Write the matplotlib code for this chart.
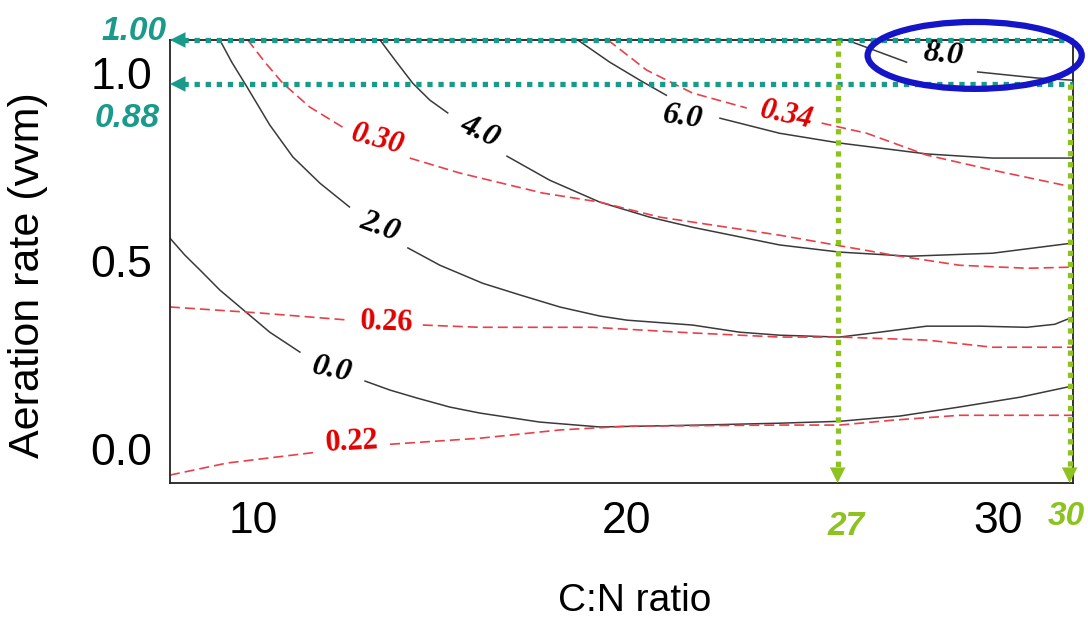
import numpy as np
import matplotlib
matplotlib.use("Agg")
import matplotlib.pyplot as plt
from matplotlib.patches import Ellipse

nan = np.nan

# ---- contour lines (C:N ratio, aeration rate vvm); nan = label gap
# black solid contours
cn_k0 = [7.75, 8.15, 8.56, 9.09, 9.82, 10.43, 11.24, nan,
         12.99, 13.66, 14.38, 15.26, 16.07, 17.68, 19.29, 21.97, 24.12, 25.73, 27.35, 28.95, 30.57, 31.99]
ar_k0 = [0.561, 0.516, 0.476, 0.423, 0.362, 0.311, 0.258, nan,
         0.181, 0.157, 0.136, 0.112, 0.096, 0.072, 0.059, 0.064, 0.069, 0.074, 0.088, 0.112, 0.138, 0.168]

cn_k2 = [9.09, 9.41, 9.82, 10.43, 11.05, 11.78, 12.57, nan,
         14.14, 15.00, 16.15, 17.15, 18.22, 19.29, 20.02, 21.78, 23.05, 24.12, 25.73, 26.81, 28.07, 29.49, 30.76, 31.51, 31.99]
ar_k2 = [1.088, 1.029, 0.963, 0.862, 0.777, 0.707, 0.644, nan,
         0.535, 0.489, 0.441, 0.410, 0.378, 0.354, 0.343, 0.330, 0.311, 0.303, 0.298, 0.311, 0.327, 0.327, 0.324, 0.332, 0.351]

cn_k4 = [13.39, 13.79, 14.27, 14.73, 15.21, nan, 16.80, 17.95, 19.29, 20.63, 21.78, 24.12, 25.73, 27.61, 29.84, 31.99]
ar_k4 = [1.088, 1.035, 0.973, 0.928, 0.894, nan, 0.779, 0.715, 0.657, 0.617, 0.590, 0.543, 0.524, 0.513, 0.521, 0.548]

cn_k6 = [18.70, 19.56, 20.37, 21.08, nan, 22.52, 24.12, 25.73, 28.07, 29.84, 31.99]
ar_k6 = [1.088, 1.029, 0.981, 0.941, nan, 0.880, 0.840, 0.814, 0.785, 0.774, 0.774]

cn_k8 = [25.92, 27.53, nan, 29.44, 31.02, 31.99]
ar_k8 = [1.088, 1.029, nan, 1.003, 0.987, 0.981]

# red dashed contours
cn_r22 = [7.75, 9.28, 11.70, nan, 13.66, 16.07, 18.22, 20.02, 24.12, 25.73, 27.16, 28.95, 31.99]
ar_r22 = [-0.069, -0.037, -0.008, nan, 0.013, 0.029, 0.051, 0.061, 0.064, 0.064, 0.077, 0.090, 0.090]

cn_r26 = [7.75, 10.17, 12.57, nan, 14.54, 16.07, 19.11, 21.78, 24.12, 25.73, 28.07, 29.84, 31.99]
ar_r26 = [0.378, 0.362, 0.343, nan, 0.330, 0.324, 0.324, 0.309, 0.298, 0.298, 0.290, 0.271, 0.271]

cn_r30 = [9.84, 10.30, 10.78, 11.50, 12.39, nan, 14.19, 15.54, 17.76, 19.29, 20.90, 24.12, 27.16, 28.95, 30.76, 31.99]
ar_r30 = [1.088, 1.029, 0.973, 0.910, 0.856, nan, 0.774, 0.734, 0.681, 0.657, 0.617, 0.569, 0.516, 0.489, 0.481, 0.484]

cn_r34 = [19.51, 20.55, 21.78, 23.24, nan, 25.25, 26.46, 28.07, 29.84, 31.99]
ar_r34 = [1.088, 1.008, 0.947, 0.907, nan, 0.867, 0.840, 0.782, 0.742, 0.697]

black_lines = [(cn_k0, ar_k0), (cn_k2, ar_k2), (cn_k4, ar_k4), (cn_k6, ar_k6), (cn_k8, ar_k8)]
red_lines = [(cn_r22, ar_r22), (cn_r26, ar_r26), (cn_r30, ar_r30), (cn_r34, ar_r34)]

# inline labels: text, x, y, rotation
black_labels = [("0.0", 12.10, 0.210, -12), ("2.0", 13.39, 0.590, -20), ("4.0", 16.07, 0.843, -25),
                ("6.0", 21.52, 0.883, -8), ("8.0", 28.50, 1.048, -6)]
red_labels = [("0.22", 12.64, 0.019, 3, "normal"), ("0.26", 13.58, 0.338, -2, "normal"),
              ("0.30", 13.33, 0.822, -15, "italic"), ("0.34", 24.31, 0.888, -12, "italic")]

# optimum markers
opt_aer = [1.088, 0.971]
opt_aer_text = ["1.00", "0.88"]
opt_cn = [25.68, 31.91]
opt_cn_text = ["27", "30"]

x_ticks = [10, 20, 30]
y_ticks = [0.0, 0.5, 1.0]
xlim = (7.75, 32.0)
ylim = (-0.09, 1.088)

teal = "#1A9A8A"
green = "#8DC21F"

fig = plt.figure(figsize=(10.88, 6.17), dpi=100)
ax = fig.add_axes([0.1562, 0.2172, 0.8300, 0.7180])

for xs, ys in black_lines:
    ax.plot(xs, ys, color="#3a3a3a", lw=1.1, zorder=2)
for xs, ys in red_lines:
    ax.plot(xs, ys, color="#E8404A", lw=1.2, dashes=(6, 3), zorder=2)

for txt, x, y, rot in black_labels:
    ax.text(x, y, txt, rotation=rot, ha="center", va="center", fontsize=23,
            family="Liberation Serif", weight="bold", style="italic", color="black", zorder=4)
for txt, x, y, rot, st in red_labels:
    ax.text(x, y, txt, rotation=rot, ha="center", va="center", fontsize=22,
            family="Liberation Serif", weight="bold", style=st, color="#E00000", zorder=4)

ax.set_xlim(*xlim)
ax.set_ylim(*ylim)
ax.set_xticks(x_ticks)
ax.set_yticks(y_ticks)
ax.set_yticklabels([f"{v:.1f}" for v in y_ticks])
ax.tick_params(length=0, labelsize=32, pad=13)
for lab in ax.get_xticklabels() + ax.get_yticklabels():
    lab.set_family("Liberation Sans")
for sp in ax.spines.values():
    sp.set_linewidth(1.3)
    sp.set_color("#222222")

ax.set_xlabel("C:N ratio", fontsize=28, family="Liberation Sans")
ax.set_ylabel("Aeration rate (vvm)", fontsize=31, family="Liberation Sans")
ax.xaxis.set_label_coords(0.515, -0.225)
ax.yaxis.set_label_coords(-0.135, 0.47)

# horizontal teal arrows (aeration)
for y, t in zip(opt_aer, opt_aer_text):
    ax.plot([xlim[0] + 0.35, xlim[1]], [y, y], color=teal, lw=3.8, dashes=(1, 1.1),
            solid_capstyle="butt", dash_capstyle="butt", zorder=5, clip_on=False)
    ax.annotate("", xy=(xlim[0], y), xytext=(xlim[0] + 1.2, y),
                arrowprops=dict(arrowstyle="-|>", mutation_scale=28, color=teal, lw=0,
                                shrinkA=0, shrinkB=0), zorder=6, annotation_clip=False)
ax.text(7.67, 1.110, opt_aer_text[0], ha="right", va="center", fontsize=24,
        family="Liberation Sans", weight="bold", style="italic", color=teal, clip_on=False)
ax.text(7.48, 0.880, opt_aer_text[1], ha="right", va="center", fontsize=24,
        family="Liberation Sans", weight="bold", style="italic", color=teal, clip_on=False)

# vertical green arrows (C:N ratio)
for x, y0 in zip(opt_cn, opt_aer):
    ax.plot([x, x], [y0, ylim[0] + 0.04], color=green, lw=3.8, dashes=(1, 1.1),
            dash_capstyle="butt", zorder=5, clip_on=False)
    ax.annotate("", xy=(x, ylim[0]), xytext=(x, ylim[0] + 0.1),
                arrowprops=dict(arrowstyle="-|>", mutation_scale=28, color=green, lw=0,
                                shrinkA=0, shrinkB=0), zorder=6, annotation_clip=False)
ax.text(25.90, -0.205, opt_cn_text[0], ha="center", va="center", fontsize=24,
        family="Liberation Sans", weight="bold", style="italic", color=green, clip_on=False)
ax.text(31.32, -0.178, opt_cn_text[1], ha="left", va="center", fontsize=24,
        family="Liberation Sans", weight="bold", style="italic", color=green, clip_on=False)

# highlight of the 8.0 region
ax.add_patch(Ellipse((29.36, 1.047), 5.75, 0.178, fill=False, edgecolor="#1414C8",
                     lw=4.5, zorder=7, clip_on=False))

fig.savefig("out.png", dpi=100)
